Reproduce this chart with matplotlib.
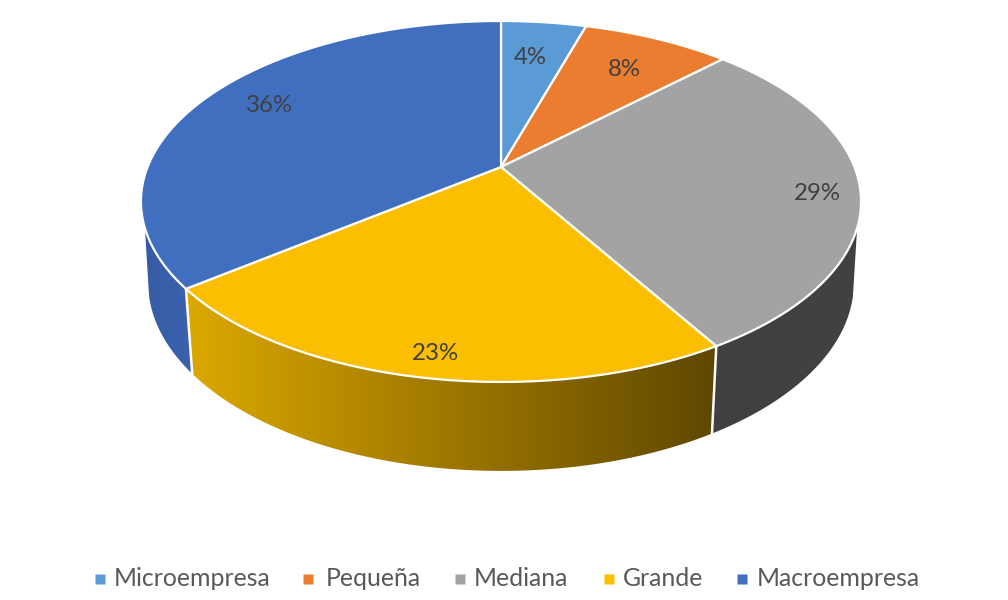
import numpy as np
import matplotlib
matplotlib.use("Agg")
import matplotlib.pyplot as plt
from matplotlib.colors import LinearSegmentedColormap
from matplotlib.patches import Polygon

categories = ["Microempresa", "Pequeña", "Mediana", "Grande", "Macroempresa"]
values = [4.6, 8.0, 28.9, 22.9, 35.6]
labels = ["4%", "8%", "29%", "23%", "36%"]
top_colors = ["#5B9BD5", "#EB7D31", "#A3A3A3", "#FBBE00", "#416FBF"]
side_left = ["#5B9BD5", "#ED7D31", "#404040", "#DCA800", "#365CA4"]
side_right = ["#5B9BD5", "#ED7D31", "#424242", "#5F4700", "#3A62AE"]
label_xy = [(530, 58), (624, 69), (817, 194), (435, 353), (269, 106)]
legend_marker_x = [100, 308, 460, 609, 742]
legend_text_x = [114, 326, 474, 623, 757]

CX, CY, R, S, K = 501.0, 167.0, 353.4, 173.9, 0.191
DEPTH_SCALE = 0.98
VIS_START, VIS_END = 109.2, 250.8
BOT_START, BOT_END = 105.0, 255.0


def top(theta):
    t = np.radians(theta)
    u, v = np.sin(t), np.cos(t)
    d = 1 + K * v
    return CX + R * u / d, CY - S * v / d


def bottom(theta):
    x, y = top(theta)
    return CX + DEPTH_SCALE * (x - CX), y + 85 + 0.043 * (y - 290)


fig = plt.figure(figsize=(10.08, 6.0), dpi=100)
ax = fig.add_axes([0, 0, 1, 1])
ax.set_xlim(0, 1008)
ax.set_ylim(600, 0)
ax.axis("off")

edges = np.concatenate([[0], np.cumsum(values) / np.sum(values) * 360])

# side walls
for i in range(len(values)):
    a, b = max(edges[i], VIS_START), min(edges[i + 1], VIS_END)
    if a >= b:
        continue
    ba, bb = max(edges[i], BOT_START), min(edges[i + 1], BOT_END)
    tx, ty = top(np.linspace(a, b, 120))
    bx, by = bottom(np.linspace(ba, bb, 120))
    pts = np.column_stack([np.r_[tx, bx[::-1]], np.r_[ty, by[::-1]]])
    poly = Polygon(pts, closed=True, fc="none", ec="none", transform=ax.transData)
    ax.add_patch(poly)
    x0, x1 = pts[:, 0].min(), pts[:, 0].max()
    y0, y1 = pts[:, 1].min(), pts[:, 1].max()
    cmap = LinearSegmentedColormap.from_list("s", [side_left[i], side_right[i]])
    im = ax.imshow(np.linspace(0, 1, 256)[None, :], cmap=cmap, aspect="auto",
                   extent=[x0, x1, y1, y0], zorder=1, interpolation="bilinear")
    im.set_clip_path(poly)
ax.set_xlim(0, 1008)
ax.set_ylim(600, 0)

# white seams on the wall
for e in edges:
    if VIS_START < e < VIS_END:
        tx, ty = top(e)
        bx, by = bottom(e)
        ax.plot([tx, bx], [ty, by], color="white", lw=1.8, zorder=2)

# top wedges
for i in range(len(values)):
    th = np.linspace(edges[i], edges[i + 1], 200)
    tx, ty = top(th)
    pts = np.column_stack([np.r_[CX, tx], np.r_[CY, ty]])
    ax.add_patch(Polygon(pts, closed=True, fc=top_colors[i], ec="white", lw=1.6,
                         joinstyle="round", zorder=3))
    ax.text(*label_xy[i], labels[i], ha="center", va="center", fontsize=17.3,
            family="Lato", color="#404040", zorder=5)

# legend
for mx, tx_, name, col in zip(legend_marker_x, legend_text_x, categories, top_colors):
    ax.plot([mx], [579], marker="s", ms=7.5, color=col, mec="none", ls="none",
            clip_on=False)
    ax.text(tx_, 579, name, ha="left", va="center", fontsize=17.9, family="Lato",
            color="#595959")

fig.savefig("out.png", dpi=100, facecolor="white")
